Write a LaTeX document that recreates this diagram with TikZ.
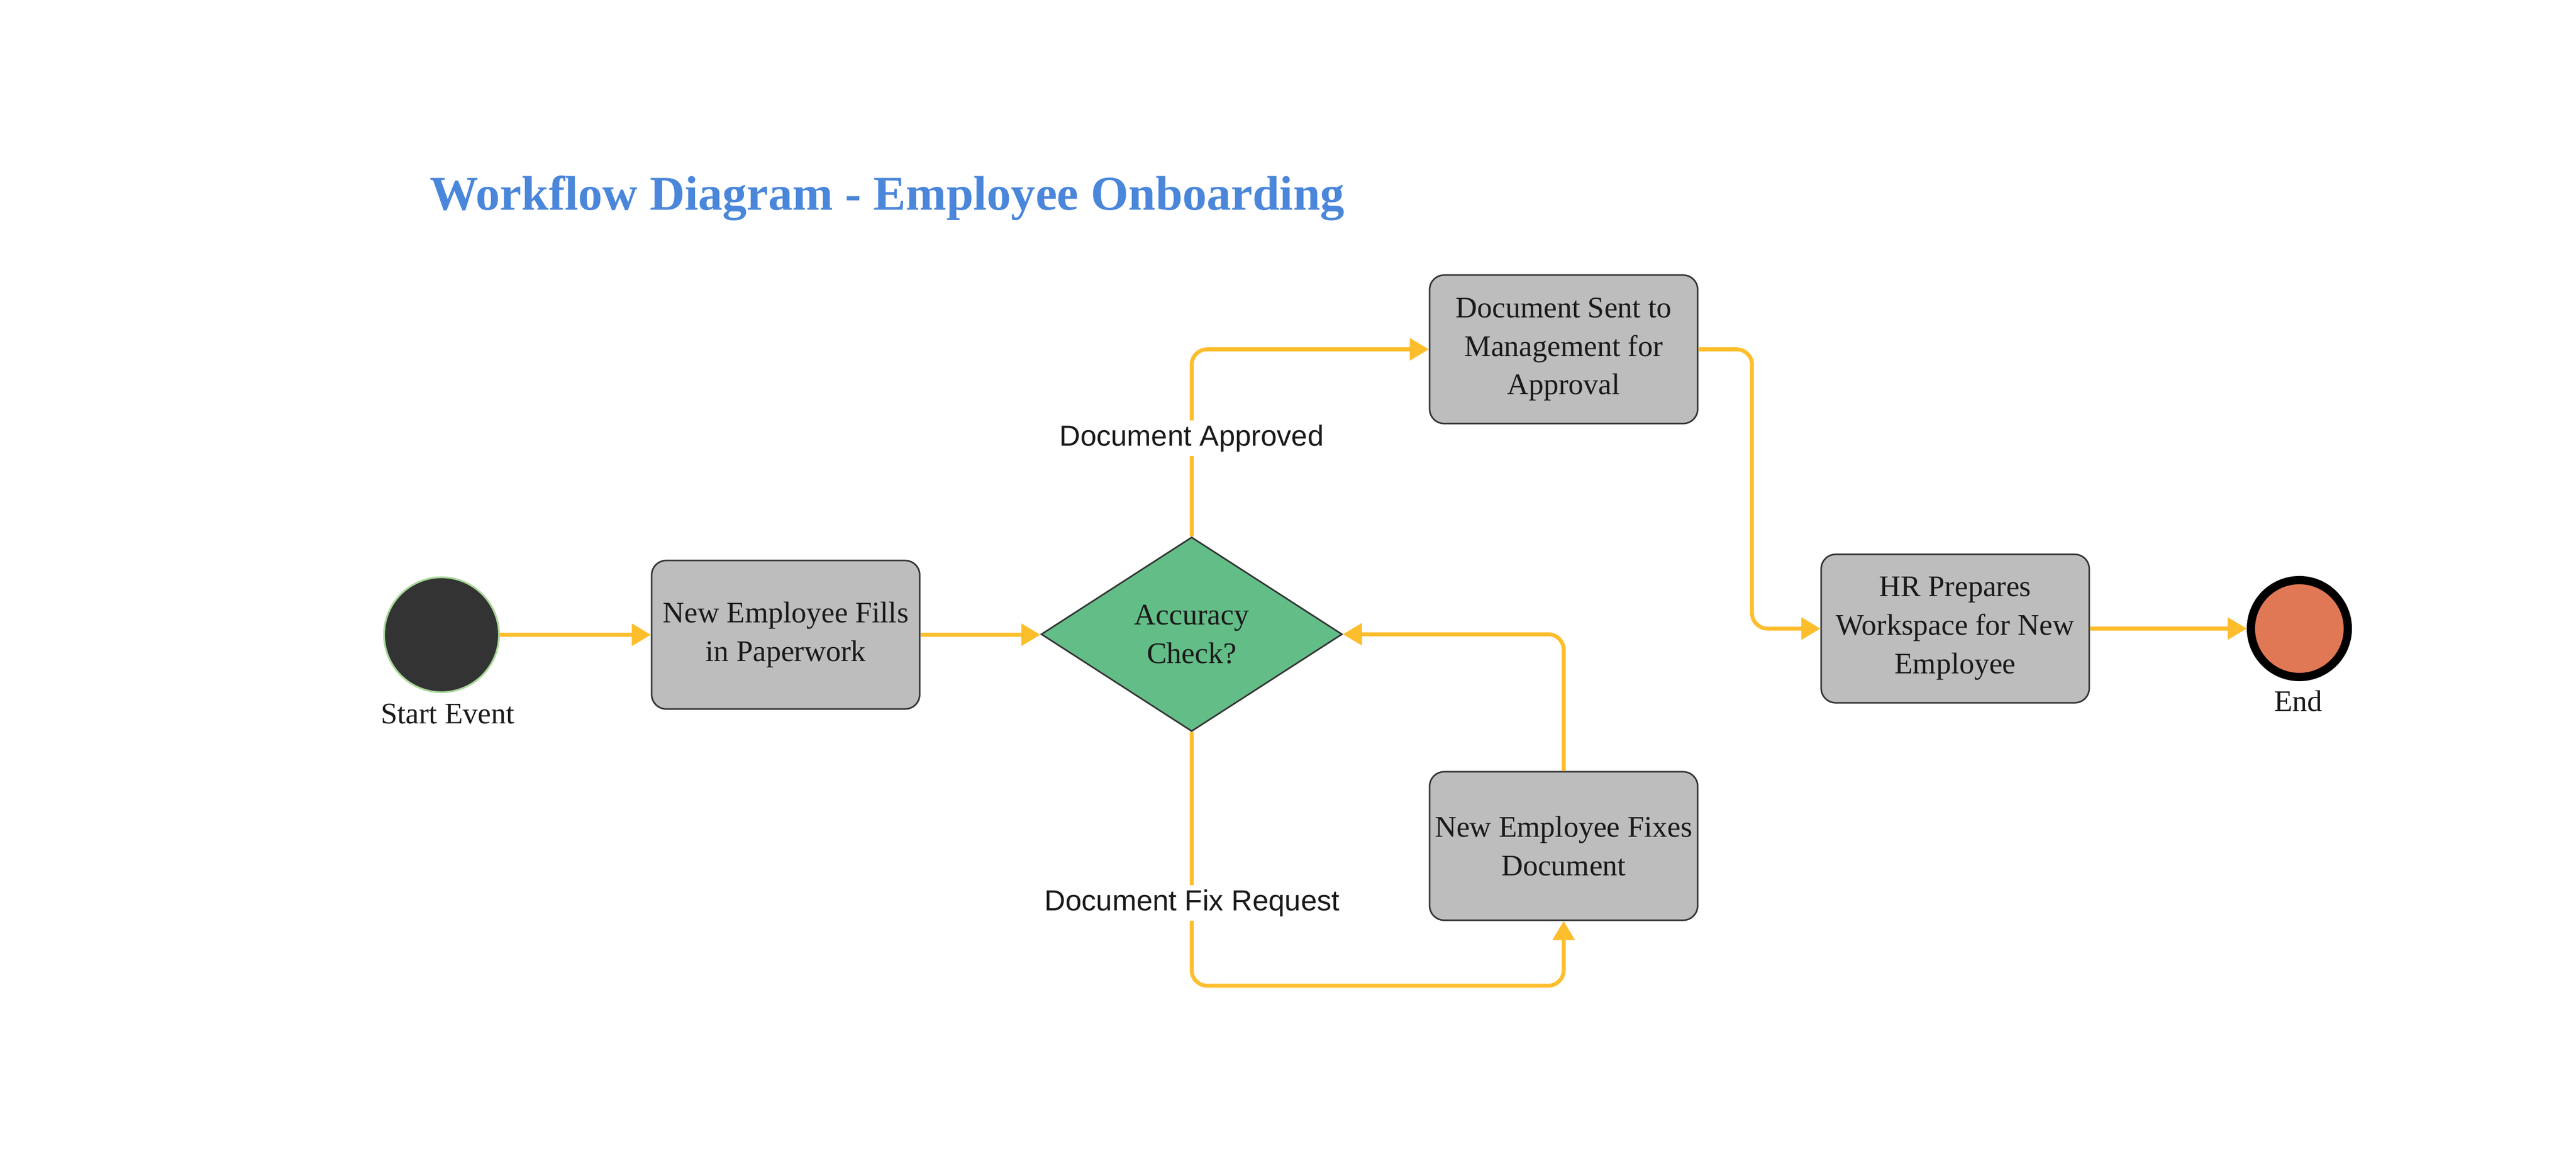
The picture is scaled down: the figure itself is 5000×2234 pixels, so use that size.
\documentclass[tikz,border=0pt]{standalone}
\usepackage{fontspec}
\setmainfont{Liberation Serif}
\newfontfamily\lblfont{Liberation Sans}
\usetikzlibrary{arrows.meta,shapes.geometric}
\definecolor{titleblue}{RGB}{74,134,218}
\definecolor{flow}{RGB}{253,190,45}
\definecolor{boxfill}{RGB}{189,189,189}
\definecolor{boxline}{RGB}{51,51,51}
\definecolor{dgreen}{RGB}{99,189,135}
\definecolor{startfill}{RGB}{51,51,51}
\definecolor{startline}{RGB}{168,216,154}
\definecolor{endfill}{RGB}{224,120,86}
\definecolor{txt}{RGB}{26,26,26}
\tikzset{
  stepbox/.style={rectangle, rounded corners=0.28cm, draw=boxline, line width=0.03cm,
    fill=boxfill, minimum width=5.2cm, minimum height=2.88cm, align=center,
    text=txt, font=\fontsize{16.5}{21.3}\selectfont, inner sep=0pt},
  decide/.style={diamond, draw=boxline, line width=0.03cm, fill=dgreen,
    minimum width=5.84cm, minimum height=3.77cm, inner sep=0pt, align=center,
    text=txt, font=\fontsize{16.5}{21.3}\selectfont},
  startev/.style={circle, draw=startline, line width=0.035cm, fill=startfill,
    minimum size=2.23cm, inner sep=0pt},
  endev/.style={circle, draw=black, line width=0.16cm, fill=endfill,
    minimum size=1.88cm, inner sep=0pt},
  evlabel/.style={text=txt, font=\fontsize{16.5}{20}\selectfont, inner sep=0pt},
  flowline/.style={draw=flow, line width=0.075cm, rounded corners=0.3cm,
    -{Triangle[length=0.37cm,width=0.42cm]}},
  lbl/.style={fill=white, text=txt, font=\lblfont\fontsize{16}{19}\selectfont,
    inner sep=0.08cm},
}
\begin{document}
\begin{tikzpicture}[x=0.01cm,y=-0.01cm]
\useasboundingbox (0,0) rectangle (5000,2234);
\fill[white] (0,0) rectangle (5000,2234);

\node[anchor=base west, text=titleblue, font=\bfseries\fontsize{26.8}{32}\selectfont, inner sep=0pt]
  (title) at (834,408) {Workflow Diagram - Employee Onboarding};

\node[startev] (s) at (857,1232) {};
\node[evlabel, anchor=base] (slbl) at (869,1404) {Start Event};

\node[stepbox] (b1) at (1525,1232) {New Employee Fills\\in Paperwork};
\node[decide] (d) at (2313,1231) {Accuracy\\Check?};
\node[stepbox] (b2) at (3035,678) {Document Sent to\\Management for\\Approval};
\node[stepbox] (b3) at (3035,1642) {New Employee Fixes\\Document};
\node[stepbox] (b4) at (3795,1220) {HR Prepares\\Workspace for New\\Employee};

\node[endev] (e) at (4463,1220) {};
\node[evlabel, anchor=base] (elbl) at (4461,1380) {End};

\draw[flowline] (s.east) -- (b1.west);
\draw[flowline] (b1.east) -- (b1.east -| d.west);
\draw[flowline] (d.north) |- (b2.west);
\draw[flowline] (b2.east) -- ++(104,0) |- (b4.west);
\draw[flowline] (b4.east) -- (e.west);
\draw[flowline] (d.south) -- ++(0,492) -| (b3.south);
\draw[flowline] (b3.north) |- (d.east);

\node[lbl, anchor=base] (la) at (2313,865) {Document Approved};
\node[lbl, anchor=base] (lf) at (2314,1767) {Document Fix Request};
\end{tikzpicture}
\end{document}
